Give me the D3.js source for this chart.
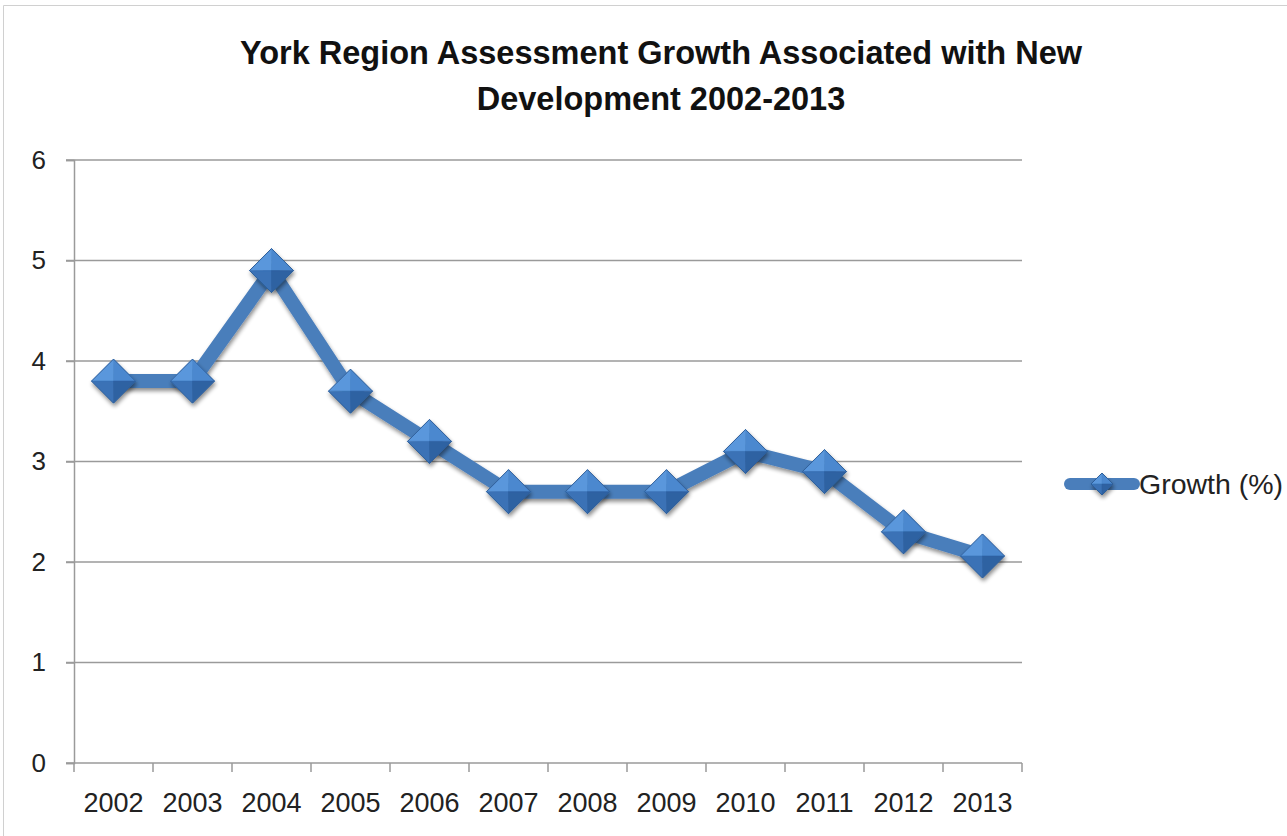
<!DOCTYPE html>
<html>
<head>
<meta charset="utf-8">
<script src="https://cdn.jsdelivr.net/npm/d3@7"></script>
<style>
  html, body { margin: 0; padding: 0; background: #fff; }
  svg { display: block; }
</style>
</head>
<body>
<svg id="chart" width="1287" height="836"></svg>
<script>
// Assessment growth from new development, York Region
const years = ["2002","2003","2004","2005","2006","2007","2008","2009","2010","2011","2012","2013"];
const growth = [3.8, 3.8, 4.9, 3.7, 3.2, 2.7, 2.7, 2.7, 3.1, 2.9, 2.3, 2.06];
const yTicks = [0, 1, 2, 3, 4, 5, 6];
const titleLines = ["York Region Assessment Growth Associated with New", "Development 2002-2013"];
const seriesName = "Growth (%)";

const svg = d3.select("#chart");
const W = 1287, H = 836;
const plot = { left: 74, right: 1022, top: 160, bottom: 763 };
const blue = "#4a7ebb";
const font = "'Liberation Sans', Arial, sans-serif";

// chart frame
svg.append("path")
  .attr("d", `M3.5,${H} V5.5 H${W}`)
  .attr("fill", "none").attr("stroke", "#d0d0d0").attr("stroke-width", 1);

const defs = svg.append("defs");
const sh = defs.append("filter").attr("id", "shadow")
  .attr("x", "-30%").attr("y", "-30%").attr("width", "160%").attr("height", "160%");
sh.append("feGaussianBlur").attr("in", "SourceAlpha").attr("stdDeviation", 2.2).attr("result", "b");
sh.append("feOffset").attr("in", "b").attr("dx", 1).attr("dy", 3).attr("result", "o");
sh.append("feComponentTransfer").attr("in", "o").attr("result", "s")
  .append("feFuncA").attr("type", "linear").attr("slope", 0.45);
const m = sh.append("feMerge");
m.append("feMergeNode").attr("in", "s");
m.append("feMergeNode").attr("in", "SourceGraphic");

const x = d3.scaleBand().domain(years).range([plot.left, plot.right]);
const y = d3.scaleLinear().domain([0, 6]).range([plot.bottom, plot.top]);

// horizontal gridlines
svg.append("g").selectAll("line").data(yTicks.filter(d => d > 0)).join("line")
  .attr("x1", plot.left - 8).attr("x2", plot.right)
  .attr("y1", d => y(d)).attr("y2", d => y(d))
  .attr("stroke", "#9a9a9a").attr("stroke-width", 1.5);

// y axis
const yAxis = svg.append("g").attr("transform", `translate(${plot.left},0)`)
  .call(d3.axisLeft(y).tickValues(yTicks).tickSize(8).tickPadding(20).tickFormat(d3.format("d")));
yAxis.select(".domain").attr("stroke", "#9a9a9a").attr("stroke-width", 1.5);
yAxis.selectAll(".tick line").attr("stroke", "#9a9a9a").attr("stroke-width", 1.5);
yAxis.selectAll("text").attr("font-family", font).attr("font-size", 26).attr("fill", "#222");

// x axis with ticks at category boundaries
const xAxisG = svg.append("g").attr("transform", `translate(0,${plot.bottom})`);
xAxisG.append("line").attr("x1", plot.left - 8).attr("x2", plot.right)
  .attr("stroke", "#9a9a9a").attr("stroke-width", 1.5);
const bounds = years.map(d => x(d)).concat([x(years[years.length - 1]) + x.bandwidth()]);
xAxisG.selectAll("line.tk").data(bounds).join("line").attr("class", "tk")
  .attr("x1", d => d).attr("x2", d => d).attr("y1", 0).attr("y2", 9)
  .attr("stroke", "#9a9a9a").attr("stroke-width", 1.5);
xAxisG.selectAll("text").data(years).join("text")
  .attr("x", d => x(d) + x.bandwidth() / 2).attr("y", 49)
  .attr("text-anchor", "middle")
  .attr("font-family", font).attr("font-size", 27).attr("fill", "#222")
  .text(d => d);

// title
svg.append("g").selectAll("text").data(titleLines).join("text")
  .attr("x", 661).attr("y", (d, i) => 64 + i * 46)
  .attr("text-anchor", "middle")
  .attr("font-family", font).attr("font-weight", "bold").attr("font-size", 32.5)
  .attr("fill", "#111")
  .text(d => d);

// bevelled diamond marker
function diamond(g, cx, cy, r) {
  const grp = g.append("g").attr("transform", `translate(${cx},${cy})`).attr("filter", "url(#shadow)");
  const facets = [
    { p: [[0, -r], [-r, 0], [0, 0]], c: "#5a97dc" },
    { p: [[0, -r], [r, 0], [0, 0]], c: "#4b88cf" },
    { p: [[-r, 0], [0, r], [0, 0]], c: "#3a72b6" },
    { p: [[r, 0], [0, r], [0, 0]], c: "#2e62a2" }
  ];
  facets.forEach(f => grp.append("path")
    .attr("d", "M" + f.p.map(q => q.join(",")).join("L") + "Z")
    .attr("fill", f.c).attr("stroke", f.c).attr("stroke-width", 0.6));
  grp.append("path")
    .attr("d", `M0,${-r}L${r},0L0,${r}L${-r},0Z`)
    .attr("fill", "none").attr("stroke", "#2f5f9a").attr("stroke-width", 1);
  return grp;
}

// series line
const line = d3.line().x((d, i) => x(years[i]) + x.bandwidth() / 2).y(d => y(d));
svg.append("path").datum(growth)
  .attr("d", line)
  .attr("fill", "none").attr("stroke", blue).attr("stroke-width", 14)
  .attr("stroke-linejoin", "round").attr("filter", "url(#shadow)");

const markers = svg.append("g");
growth.forEach((v, i) => diamond(markers, x(years[i]) + x.bandwidth() / 2, y(v), 22));

// legend
const lg = svg.append("g");
lg.append("line").attr("x1", 1070).attr("x2", 1134).attr("y1", 484).attr("y2", 484)
  .attr("stroke", blue).attr("stroke-width", 12).attr("stroke-linecap", "round");
diamond(lg, 1102, 484, 11);
lg.append("text").attr("x", 1139).attr("y", 494)
  .attr("font-family", font).attr("font-size", 28.5).attr("fill", "#222")
  .text(seriesName);
</script>
</body>
</html>
